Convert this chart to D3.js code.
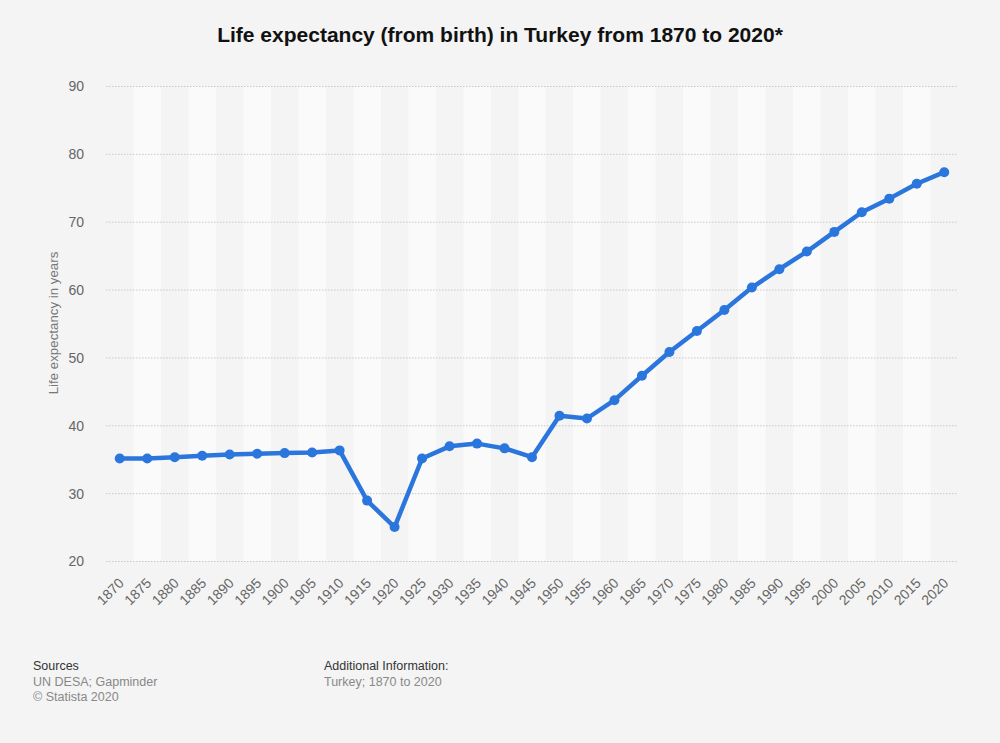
<!DOCTYPE html>
<html><head><meta charset="utf-8">
<script src="https://cdn.jsdelivr.net/npm/d3@7"></script>
<style>
body{margin:0;background:#f4f4f4;font-family:"Liberation Sans",Arial,sans-serif;}
</style></head><body>
<svg id="c" width="1000" height="743"></svg>
<script>
const years = ["1870","1875","1880","1885","1890","1895","1900","1905","1910","1915","1920","1925","1930","1935","1940","1945","1950","1955","1960","1965","1970","1975","1980","1985","1990","1995","2000","2005","2010","2015","2020"];
const lifeExpectancy = [35.1,35.1,35.3,35.5,35.7,35.8,35.9,36.0,36.3,28.9,25.0,35.1,36.9,37.3,36.6,35.3,41.4,41.0,43.7,47.3,50.8,53.9,57.0,60.3,63.0,65.6,68.5,71.4,73.4,75.6,77.3];
const yTicks = [20,30,40,50,60,70,80,90];

const svg = d3.select("#c");
svg.append("rect").attr("width",1000).attr("height",743).attr("fill","#f4f4f4");
const m = {l:106, r:958, t:86, b:561};
const x = d3.scaleBand().domain(years).range([m.l, m.r]);
const y = d3.scaleLinear().domain([20,90]).range([m.b, m.t]);

// stripes
svg.append("g").selectAll("rect").data(years.filter((d,i)=>i%2===1)).join("rect")
  .attr("x", d=>x(d)).attr("y", m.t).attr("width", x.bandwidth()).attr("height", m.b-m.t)
  .attr("fill","#fafafa");

// grid
const yAxis = d3.axisLeft(y).tickValues(yTicks).tickSize(-(m.r-m.l)).tickPadding(22);
const gy = svg.append("g").attr("transform",`translate(${m.l},0)`).call(yAxis);
gy.select(".domain").remove();
gy.selectAll(".tick line").attr("stroke","#c8c8c8").attr("stroke-dasharray","1.5,1.5");
gy.selectAll(".tick text").attr("fill","#666").attr("font-size","14px").attr("font-family","Liberation Sans, Arial, sans-serif").attr("dy","0.35em");

// x axis
const xAxis = d3.axisBottom(x).tickSize(0).tickPadding(0);
const gx = svg.append("g").attr("transform",`translate(0,${m.b})`).call(xAxis);
gx.select(".domain").remove();
gx.selectAll(".tick text").attr("fill","#666").attr("font-size","14px").attr("font-family","Liberation Sans, Arial, sans-serif")
  .attr("text-anchor","end").attr("dy","0").attr("y",0)
  .attr("transform","translate(5,23) rotate(-45)");

// line
const line = d3.line().x((d,i)=>x(years[i])+x.bandwidth()/2).y(d=>y(d));
svg.append("path").datum(lifeExpectancy).attr("d",line).attr("fill","none")
  .attr("stroke","#2a76dd").attr("stroke-width",4.5).attr("stroke-linejoin","round");
svg.append("g").selectAll("circle").data(lifeExpectancy).join("circle")
  .attr("cx",(d,i)=>x(years[i])+x.bandwidth()/2).attr("cy",d=>y(d)).attr("r",5).attr("fill","#2a76dd");

// title
svg.append("text").attr("x",500).attr("y",42).attr("text-anchor","middle")
  .attr("font-size","21px").attr("font-weight","bold").attr("fill","#111")
  .text("Life expectancy (from birth) in Turkey from 1870 to 2020*");

// y label
svg.append("text").attr("transform","translate(58,323) rotate(-90)").attr("text-anchor","middle")
  .attr("font-size","13.3px").attr("fill","#777").text("Life expectancy in years");

// footer
const f = svg.append("g").attr("font-size","12.5px");
f.append("text").attr("x",33).attr("y",670).attr("fill","#333").text("Sources");
f.append("text").attr("x",33).attr("y",686).attr("fill","#888").text("UN DESA; Gapminder");
f.append("text").attr("x",33).attr("y",701).attr("fill","#888").text("© Statista 2020");
f.append("text").attr("x",324).attr("y",670).attr("fill","#333").text("Additional Information:");
f.append("text").attr("x",324).attr("y",686).attr("fill","#888").text("Turkey; 1870 to 2020");
</script></body></html>
